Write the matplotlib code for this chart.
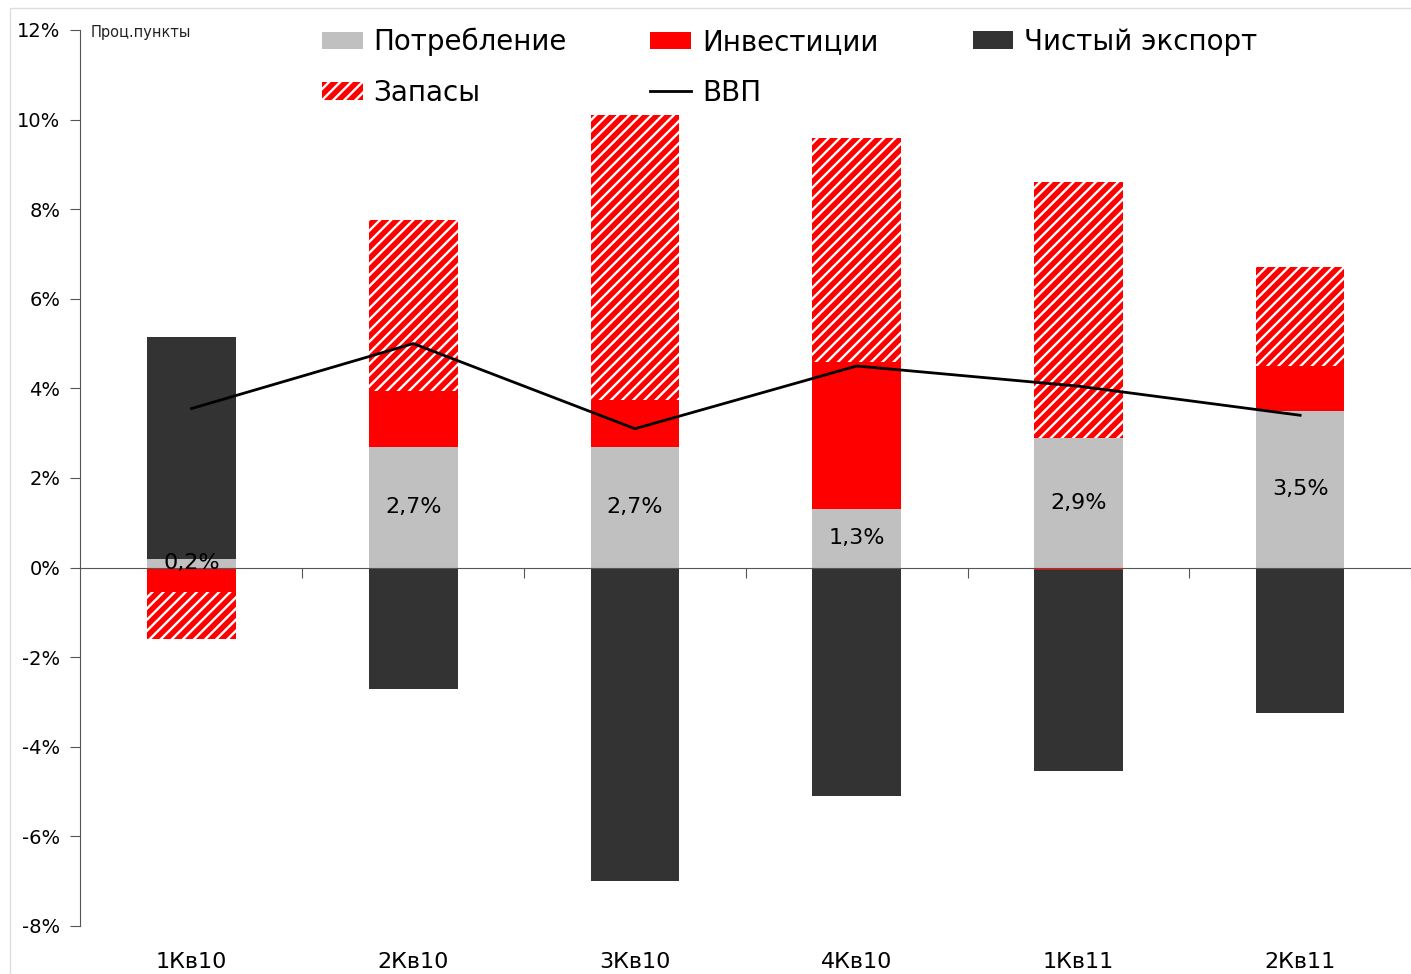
import numpy as np
import matplotlib.pyplot as plt
from matplotlib.patches import Patch, Rectangle
from matplotlib.lines import Line2D
import matplotlib.transforms as mtransforms

plt.rcParams['font.family'] = ['DejaVu Sans']
plt.rcParams['hatch.linewidth'] = 1.7
plt.rcParams['hatch.color'] = 'white'

quarters = ['1Кв10', '2Кв10', '3Кв10', '4Кв10', '1Кв11', '2Кв11']
consumption = [0.2, 2.7, 2.7, 1.3, 2.9, 3.5]
investment = [-0.55, 1.25, 1.05, 3.3, -0.05, 1.0]
stocks = [-1.05, 3.8, 6.35, 5.0, 5.7, 2.2]
net_export = [4.95, -2.7, -7.0, -5.1, -4.5, -3.25]
gdp = [3.55, 5.0, 3.1, 4.5, 4.05, 3.4]
cons_labels = ['0,2%', '2,7%', '2,7%', '1,3%', '2,9%', '3,5%']

grey = '#c0c0c0'
red = '#ff0000'
dark = '#333333'

fig = plt.figure(figsize=(14.11, 9.74), dpi=100)
ax = fig.add_axes([0.0567, 0.0493, 0.9433, 0.9199])

x = np.arange(len(quarters))
w = 0.40

# plus nach oben, minus nach unten stapeln
series = [(consumption, grey, None), (investment, red, None),
          (stocks, red, '///'), (net_export, dark, None)]
pos = np.zeros(len(x))
neg = np.zeros(len(x))
for vals, col, hatch in series:
    vals = np.array(vals)
    bottom = np.where(vals >= 0, pos, neg)
    ax.bar(x, vals, w, bottom=bottom, color=col, hatch=hatch,
           edgecolor='white' if hatch else col, linewidth=0)
    pos += np.where(vals >= 0, vals, 0)
    neg += np.where(vals < 0, vals, 0)

ax.plot(x, gdp, color='black', lw=2, zorder=5)

for i, v in enumerate(consumption):
    ax.text(x[i], v / 2, cons_labels[i], ha='center', va='center',
            fontsize=16, zorder=6)

ax.set_xlim(-0.503, 5.474)
ax.set_ylim(-8, 12)
ax.set_yticks(np.arange(-8, 13, 2))
ax.set_yticklabels([f'{t}%' for t in range(-8, 13, 2)], fontsize=14)
ax.tick_params(axis='y', length=7, color='#555555', pad=7)

for s in ['top', 'right']:
    ax.spines[s].set_visible(False)
ax.spines['left'].set_color('#555555')
ax.spines['bottom'].set_position(('data', 0))
ax.spines['bottom'].set_color('#555555')
ax.set_xticks(x + 0.5)
ax.set_xticklabels([])
ax.tick_params(axis='x', length=7, color='#555555', direction='out')

trans = mtransforms.blended_transform_factory(ax.transData, fig.transFigure)
for i, q in enumerate(quarters):
    ax.text(x[i], 0.012, q, transform=trans, ha='center', va='center',
            fontsize=16)

ax.text(91, 942, 'Проц.пункты', transform=None, fontsize=10.5,
        color='#222222', va='center')

leg_kw = dict(loc='upper left', frameon=False, fontsize=20, handlelength=1.45,
              handleheight=0.6, handletextpad=0.4, labelspacing=0.8)
handles = [Patch(facecolor=grey), Patch(facecolor=red, hatch='///', edgecolor='white', linewidth=0),
           Patch(facecolor=red), Line2D([], [], color='black', lw=2)]
labels = ['Потребление', 'Запасы', 'Инвестиции', 'ВВП']
leg1 = fig.legend(handles, labels, ncol=2, bbox_to_anchor=(0.2107, 0.997),
                  columnspacing=3.0, **leg_kw)
fig.legend([Patch(facecolor=dark)], ['Чистый экспорт'],
           bbox_to_anchor=(0.6719, 0.997), **leg_kw)

fig.patches.append(Rectangle((0.007, -0.1), 1.1, 1.092, transform=fig.transFigure,
                             fill=False, edgecolor='#dddddd', lw=1))

plt.savefig('out.png', dpi=100)
